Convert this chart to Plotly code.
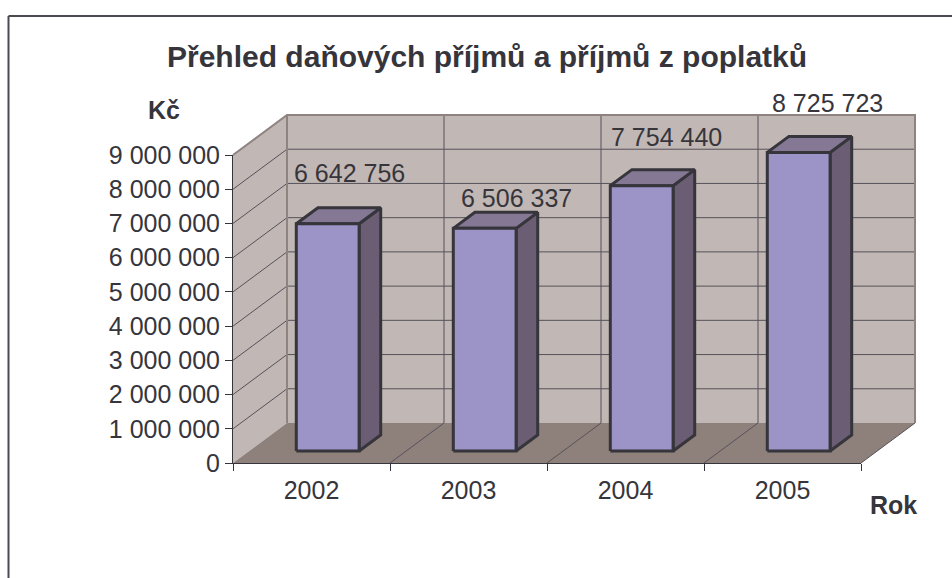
import plotly.graph_objects as go

# --- data -----------------------------------------------------------------
years = ["2002", "2003", "2004", "2005"]
values = [6642756, 6506337, 7754440, 8725723]
y_ticks = [0, 1000000, 2000000, 3000000, 4000000, 5000000, 6000000, 7000000, 8000000, 9000000]
title_text = "Přehled daňových příjmů a příjmů z poplatků"
y_title = "Kč"
x_title = "Rok"

# --- page / plot geometry --------------------------------------------------
W, H = 952, 578
X0, X1 = 233, 861      # category axis, px
Y0, Y9 = 463, 155      # value axis, px
CAT_PX = (X1 - X0) / len(years)
VAL_PX = (Y0 - Y9) / y_ticks[-1]
DEPTH_X = 54 / CAT_PX       # wall depth in category units
DEPTH_Y = 40 / VAL_PX       # wall depth in value units
BAR_START, BAR_W = 0.30, 0.40
BAR_D0, BAR_D1 = 0.30, 0.70

# --- colours ---------------------------------------------------------------
WALL = "#C1B7B4"
FLOOR = "#8E807A"
EDGE = "#8F8380"
GRID = "#56525A"
FRONT = "#9C93C7"
SIDE = "#6B5D73"
TOP = "#847895"
OUT = "#36353B"
TEXT = "#36353B"
FONT = "Liberation Sans, Arial, sans-serif"
LABEL_SIZE = 25
BAR_LINE = 3


def pt(cat, val, depth=0.0):
    return cat + depth * DEPTH_X, val + depth * DEPTH_Y


def poly(points, fill=None, color=None, width=0):
    xs = [p[0] for p in points]
    ys = [p[1] for p in points]
    if fill:
        xs.append(xs[0])
        ys.append(ys[0])
    return go.Scatter(
        x=xs, y=ys, mode="lines",
        fill="toself" if fill else "none",
        fillcolor=fill,
        line=dict(color=color or "rgba(0,0,0,0)", width=width, simplify=False),
        hoverinfo="skip", showlegend=False,
    )


fig = go.Figure()
n = len(years)
vmax = y_ticks[-1]

# walls and floor
fig.add_trace(poly([pt(0, 0, 0), pt(0, 0, 1), pt(0, vmax, 1), pt(0, vmax, 0)], WALL))
fig.add_trace(poly([pt(0, 0, 1), pt(n, 0, 1), pt(n, vmax, 1), pt(0, vmax, 1)], WALL))
fig.add_trace(poly([pt(0, 0, 0), pt(n, 0, 0), pt(n, 0, 1), pt(0, 0, 1)], FLOOR))

# grid
for v in y_ticks[1:-1]:
    fig.add_trace(poly([pt(0, v, 0), pt(0, v, 1), pt(n, v, 1)], color=GRID, width=1))
for k in range(1, n):
    fig.add_trace(poly([pt(k, 0, 1), pt(k, vmax, 1)], color=GRID, width=1))
for k in range(1, n + 1):
    fig.add_trace(poly([pt(k, 0, 0), pt(k, 0, 1)], color=GRID, width=1))
# wall edges
fig.add_trace(poly([pt(0, vmax, 0), pt(0, vmax, 1), pt(n, vmax, 1), pt(n, 0, 1)], color=EDGE, width=2))
fig.add_trace(poly([pt(0, 0, 1), pt(0, vmax, 1)], color=EDGE, width=2))

# bars
for i, v in enumerate(values):
    a, b = i + BAR_START, i + BAR_START + BAR_W
    fig.add_trace(poly([pt(b, 0, BAR_D0), pt(b, 0, BAR_D1), pt(b, v, BAR_D1), pt(b, v, BAR_D0)], SIDE, OUT, BAR_LINE))
    fig.add_trace(poly([pt(a, v, BAR_D0), pt(b, v, BAR_D0), pt(b, v, BAR_D1), pt(a, v, BAR_D1)], TOP, OUT, BAR_LINE))
    fig.add_trace(poly([pt(a, 0, BAR_D0), pt(b, 0, BAR_D0), pt(b, v, BAR_D0), pt(a, v, BAR_D0)], FRONT, OUT, BAR_LINE))

# real axes, carrying ticks and labels
fig.add_trace(go.Scatter(x=years, y=values, mode="markers", marker=dict(opacity=0),
                         xaxis="x2", yaxis="y2", hoverinfo="skip", showlegend=False))

# data labels, anchored on the bars
label_dx = [21.5, 31.5, 25, 29]
label_dy = [51, 30, 49, 49]
annotations = []
for i, v in enumerate(values):
    x, y = pt(i + BAR_START + BAR_W / 2, v, BAR_D0)
    annotations.append(dict(
        x=x, y=y, xref="x", yref="y", xshift=label_dx[i], yshift=label_dy[i],
        text=f"{v:,}".replace(",", " "), showarrow=False,
        font=dict(family=FONT, size=LABEL_SIZE, color=TEXT),
    ))


def page_text(text, px, py, size):
    return dict(x=px / W, y=1 - py / H, xref="paper", yref="paper", text=f"<b>{text}</b>",
                showarrow=False, font=dict(family=FONT, size=size, color=TEXT),
                xanchor="center", yanchor="middle")


annotations += [page_text(title_text, 487, 57, 30),
                page_text(y_title, 164, 110, 25),
                page_text(x_title, 893, 505, 25)]

frame = dict(color="#4A4A50", width=2)
shapes = [
    dict(type="line", xref="paper", yref="paper", x0=8.5 / W, x1=1, y0=1 - 16 / H, y1=1 - 16 / H, line=frame),
    dict(type="line", xref="paper", yref="paper", x0=8.5 / W, x1=8.5 / W, y0=1 - 16 / H, y1=0, line=frame),
]

fig.update_layout(
    template="none",
    width=W, height=H, autosize=False,
    margin=dict(l=0, r=0, t=0, b=0, pad=0),
    paper_bgcolor="white", plot_bgcolor="rgba(0,0,0,0)",
    separators=", ",
    showlegend=False,
    annotations=annotations, shapes=shapes,
    xaxis=dict(visible=False, domain=[0, 1], fixedrange=True, automargin=False,
               range=[-X0 / CAT_PX, (W - X0) / CAT_PX]),
    yaxis=dict(visible=False, domain=[0, 1], fixedrange=True, automargin=False,
               range=[-(H - Y0) / VAL_PX, Y0 / VAL_PX]),
    xaxis2=dict(type="category", categoryorder="array", categoryarray=years, automargin=False,
                domain=[X0 / W, X1 / W], anchor="y2", range=[-0.5, n - 0.5],
                showgrid=False, zeroline=False, showline=True, linecolor=OUT, linewidth=1,
                ticks="outside", tickson="boundaries", ticklen=7, tickcolor=OUT, tickwidth=1,
                ticklabelstandoff=5,
                tickfont=dict(family=FONT, size=LABEL_SIZE, color=TEXT)),
    yaxis2=dict(domain=[1 - Y0 / H, 1 - Y9 / H], anchor="x2", range=[0, vmax], automargin=False,
                tickmode="array", tickvals=y_ticks, tickformat=",d",
                showgrid=False, zeroline=False, showline=True, linecolor=OUT, linewidth=1,
                ticks="outside", ticklen=7, tickcolor=OUT, tickwidth=1,
                tickfont=dict(family=FONT, size=LABEL_SIZE, color=TEXT)),
)

fig.write_html("out.html", config={"displayModeBar": False},
               post_script="document.body.style.margin='0';document.body.style.overflow='hidden';")
